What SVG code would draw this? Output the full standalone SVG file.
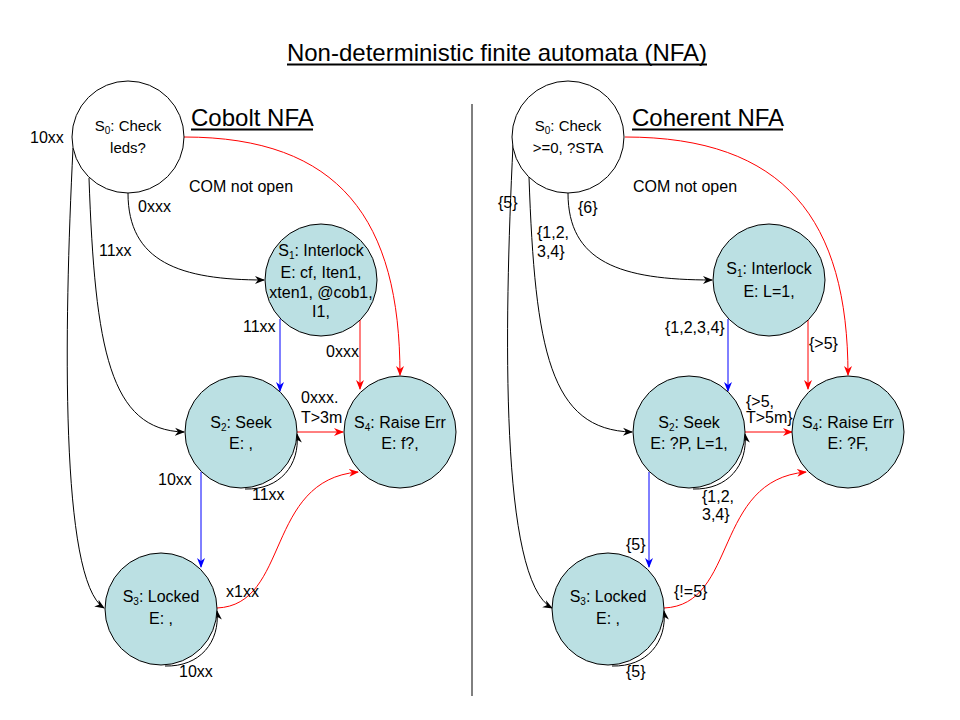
<svg xmlns="http://www.w3.org/2000/svg" width="960" height="720" viewBox="0 0 960 720">
<style>
text{font-family:"Liberation Sans",Arial,sans-serif;fill:#000;}
.node{fill:#BBE0E3;stroke:#000;stroke-width:1;}
.start{fill:#fff;stroke:#000;stroke-width:1;}
.nt{font-size:16px;text-anchor:middle;}
.n0{font-size:15px;text-anchor:middle;}
.lb{font-size:16px;}
.hd{font-size:24px;}
.e{fill:none;stroke-width:1;}
.k{stroke:#000;}
.b{stroke:#0000FF;}
.r{stroke:#FF0000;}
.sub{font-size:10px;}
</style>
<defs>
<marker id="ak" viewBox="0 0 10 10" refX="9" refY="5" markerWidth="10" markerHeight="10" markerUnits="userSpaceOnUse" orient="auto"><path d="M0,1 L10,5 L0,9 L3,5 z" fill="#000"/></marker>
<marker id="ab" viewBox="0 0 10 10" refX="9" refY="5" markerWidth="10" markerHeight="10" markerUnits="userSpaceOnUse" orient="auto"><path d="M0,1 L10,5 L0,9 L3,5 z" fill="#0000FF"/></marker>
<marker id="ar" viewBox="0 0 10 10" refX="9" refY="5" markerWidth="10" markerHeight="10" markerUnits="userSpaceOnUse" orient="auto"><path d="M0,1 L10,5 L0,9 L3,5 z" fill="#FF0000"/></marker>
</defs>
<rect width="960" height="720" fill="#fff"/>

<g id="titles">
<text class="hd" x="497" y="61" text-anchor="middle">Non-deterministic finite automata (NFA)</text>
<line x1="287" y1="64.5" x2="707" y2="64.5" stroke="#000" stroke-width="2"/>
<text class="hd" x="191" y="126">Cobolt NFA</text>
<line x1="191" y1="129.5" x2="313" y2="129.5" stroke="#000" stroke-width="2"/>
<text class="hd" x="632" y="126">Coherent NFA</text>
<line x1="632" y1="129.5" x2="783" y2="129.5" stroke="#000" stroke-width="2"/>
<line x1="472" y1="104" x2="472" y2="696" stroke="#000" stroke-width="1"/>
</g>

<g id="connectors">
<!-- left -->
<path class="e k" d="M73,148 C 64,330 60,580 104,608" marker-end="url(#ak)"/>
<path class="e k" d="M89,178 C 95,350 110,430 184,432" marker-end="url(#ak)"/>
<path class="e k" d="M128,193 C 128,262 180,280 264,280" marker-end="url(#ak)"/>
<path class="e r" d="M184,137 C 340,137 400,220 400,375" marker-end="url(#ar)"/>
<path class="e b" d="M280,319 L280,391" marker-end="url(#ab)"/>
<path class="e r" d="M360,319 L360,389" marker-end="url(#ar)"/>
<path class="e r" d="M297,432 L343,432" marker-end="url(#ar)"/>
<path class="e k" d="M245,489 C 280,490 300,465 297,434" marker-end="url(#ak)"/>
<path class="e b" d="M201,472 L201,567" marker-end="url(#ab)"/>
<path class="e r" d="M217,608 C 290,605 265,480 358,472" marker-end="url(#ar)"/>
<path class="e k" d="M165,666 C 200,667 220,642 217,611" marker-end="url(#ak)"/>
<!-- right -->
<path class="e k" d="M513,145 C 504,330 500,580 552,608" marker-end="url(#ak)"/>
<path class="e k" d="M529,177 C 535,350 550,430 632,432" marker-end="url(#ak)"/>
<path class="e k" d="M568,193 C 568,262 620,280 712,280" marker-end="url(#ak)"/>
<path class="e r" d="M625,137 C 785,137 848,220 848,375" marker-end="url(#ar)"/>
<path class="e b" d="M728,319 L728,391" marker-end="url(#ab)"/>
<path class="e r" d="M808,319 L808,389" marker-end="url(#ar)"/>
<path class="e r" d="M745,432 L792,432" marker-end="url(#ar)"/>
<path class="e k" d="M693,489 C 728,490 748,465 745,434" marker-end="url(#ak)"/>
<path class="e b" d="M649,472 L649,567" marker-end="url(#ab)"/>
<path class="e r" d="M664,608 C 738,605 713,480 806,472" marker-end="url(#ar)"/>
<path class="e k" d="M612,666 C 647,667 667,642 664,611" marker-end="url(#ak)"/>
</g>

<g id="labels">
<text class="lb" x="30" y="143">10xx</text>
<text class="lb" x="189" y="192">COM not open</text>
<text class="lb" x="138" y="212">0xxx</text>
<text class="lb" x="99" y="256">11xx</text>
<text class="lb" x="243" y="332">11xx</text>
<text class="lb" x="326" y="357">0xxx</text>
<text class="lb" x="301" y="403">0xxx.</text>
<text class="lb" x="301" y="423">T&gt;3m</text>
<text class="lb" x="158" y="485">10xx</text>
<text class="lb" x="252" y="500">11xx</text>
<text class="lb" x="226" y="597">x1xx</text>
<text class="lb" x="179" y="677">10xx</text>

<text class="lb" x="498" y="208">{5}</text>
<text class="lb" x="578" y="213">{6}</text>
<text class="lb" x="537" y="238">{1,2,</text>
<text class="lb" x="537" y="257">3,4}</text>
<text class="lb" x="633" y="192">COM not open</text>
<text class="lb" x="665" y="333">{1,2,3,4}</text>
<text class="lb" x="809" y="349">{&gt;5}</text>
<text class="lb" x="746" y="407">{&gt;5,</text>
<text class="lb" x="746" y="423">T&gt;5m}</text>
<text class="lb" x="702" y="502">{1,2,</text>
<text class="lb" x="702" y="520">3,4}</text>
<text class="lb" x="626" y="550">{5}</text>
<text class="lb" x="674" y="597">{!=5}</text>
<text class="lb" x="626" y="677">{5}</text>
</g>

<g id="c_s0">
<circle class="start" cx="128" cy="137" r="56"/>
<text class="n0" x="128" y="131">S<tspan class="sub" dy="3">0</tspan><tspan dy="-3">: Check</tspan></text>
<text class="n0" x="128" y="153">leds?</text>
</g>
<g id="c_s1">
<circle class="node" cx="321" cy="280" r="56"/>
<text class="nt" x="321" y="256">S<tspan class="sub" dy="3">1</tspan><tspan dy="-3">: Interlock</tspan></text>
<text class="nt" x="321" y="278">E: cf, Iten1,</text>
<text class="nt" x="321" y="298">xten1, @cob1,</text>
<text class="nt" x="321" y="317">I1,</text>
</g>
<g id="c_s2">
<circle class="node" cx="241" cy="432" r="56"/>
<text class="nt" x="241" y="428">S<tspan class="sub" dy="3">2</tspan><tspan dy="-3">: Seek</tspan></text>
<text class="nt" x="241" y="449">E: ,</text>
</g>
<g id="c_s4">
<circle class="node" cx="400" cy="432" r="56"/>
<text class="nt" x="400" y="428">S<tspan class="sub" dy="3">4</tspan><tspan dy="-3">: Raise Err</tspan></text>
<text class="nt" x="400" y="449">E: f?,</text>
</g>
<g id="c_s3">
<circle class="node" cx="161" cy="609" r="56"/>
<text class="nt" x="161" y="602">S<tspan class="sub" dy="3">3</tspan><tspan dy="-3">: Locked</tspan></text>
<text class="nt" x="161" y="624">E: ,</text>
</g>

<g id="h_s0">
<circle class="start" cx="568" cy="137" r="56"/>
<text class="n0" x="568" y="131">S<tspan class="sub" dy="3">0</tspan><tspan dy="-3">: Check</tspan></text>
<text class="n0" x="568" y="153">&gt;=0, ?STA</text>
</g>
<g id="h_s1">
<circle class="node" cx="769" cy="280" r="56"/>
<text class="nt" x="769" y="274">S<tspan class="sub" dy="3">1</tspan><tspan dy="-3">: Interlock</tspan></text>
<text class="nt" x="769" y="297">E: L=1,</text>
</g>
<g id="h_s2">
<circle class="node" cx="689" cy="432" r="56"/>
<text class="nt" x="689" y="428">S<tspan class="sub" dy="3">2</tspan><tspan dy="-3">: Seek</tspan></text>
<text class="nt" x="689" y="449">E: ?P, L=1,</text>
</g>
<g id="h_s4">
<circle class="node" cx="848" cy="432" r="56"/>
<text class="nt" x="848" y="428">S<tspan class="sub" dy="3">4</tspan><tspan dy="-3">: Raise Err</tspan></text>
<text class="nt" x="848" y="449">E: ?F,</text>
</g>
<g id="h_s3">
<circle class="node" cx="608" cy="609" r="56"/>
<text class="nt" x="608" y="602">S<tspan class="sub" dy="3">3</tspan><tspan dy="-3">: Locked</tspan></text>
<text class="nt" x="608" y="624">E: ,</text>
</g>
</svg>
